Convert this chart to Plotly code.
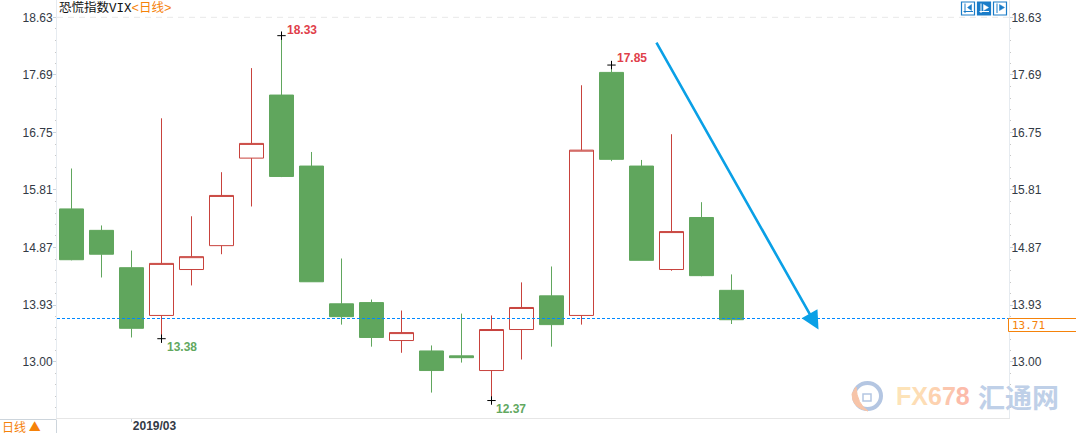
import plotly.graph_objects as go

W, H = 1076, 433
L, R, B = 57, 1009, 418

day_index = list(range(23))
open_ = [15.50,15.15,14.54,13.76,14.51,14.90,16.33,17.36,16.20,13.95,13.97,13.35,13.18,13.10,12.86,13.53,14.08,13.76,17.73,16.20,14.51,15.36,14.17]
high  = [16.16,15.23,14.82,16.98,15.38,16.10,17.80,18.33,16.43,14.69,14.02,13.84,13.27,13.79,13.76,14.30,14.56,17.52,17.85,16.30,16.72,15.61,14.43]
low   = [14.66,14.38,13.40,13.38,14.25,14.76,15.54,16.02,14.31,13.61,13.25,13.15,12.50,12.99,12.37,13.04,13.25,13.61,16.28,14.66,14.49,14.40,13.62]
close = [14.67,14.76,13.55,14.61,14.72,15.72,16.57,16.03,14.31,13.74,13.40,13.48,12.86,13.07,13.53,13.89,13.61,16.46,16.31,14.66,15.13,14.41,13.69]

y_ticks = [18.63,17.69,16.75,15.81,14.87,13.93,13.00]
y_minor = [18.44,18.25,18.06,17.88,17.50,17.31,17.12,16.94,16.56,16.37,16.18,16.00,15.62,15.43,15.24,15.06,14.68,14.49,14.30,14.12,13.74,13.56,13.37,13.19,12.81,12.63,12.44,12.26]
y_labels = [f"{v:.2f}" for v in y_ticks]
last_price = 13.71
x_tick, x_label = 2, "2019/03"
extreme_x = [7, 18, 3, 14]
extreme_y = [18.33, 17.85, 13.38, 12.37]
extreme_colors = ["#E0404A", "#E0404A", "#62A85F", "#62A85F"]
arrow_start = (19.47, 18.24)
arrow_end = (24.9, 13.53)

RED, GREEN = "#C8423C", "#60A65D"
AX = "#E6EBF0"
TXT = "#333A45"

def val_y(y):
    return 18.63 - (y - 17.3) / 61.22

y_range = [val_y(B), val_y(0)]
x_range = [(L - 71.5) / 30, (R - 71.5) / 30]

def px(x): return (x - L) / (R - L)
def py(y): return (B - y) / B

fig = go.Figure()
fig.add_trace(go.Candlestick(
    x=day_index, open=open_, high=high, low=low, close=close,
    increasing=dict(line=dict(color=RED, width=1), fillcolor="#FFFFFF"),
    decreasing=dict(line=dict(color=GREEN, width=1), fillcolor=GREEN),
    whiskerwidth=0, showlegend=False, hoverinfo="skip", opacity=1,
))
fig.add_trace(go.Scatter(
    x=extreme_x, y=extreme_y, mode="markers",
    marker=dict(symbol="cross-thin", size=6, line=dict(color="#000000", width=1)),
    showlegend=False, hoverinfo="skip",
))
fig.add_trace(go.Scatter(
    x=[0], y=[last_price], yaxis="y2", mode="markers",
    marker=dict(opacity=0), showlegend=False, hoverinfo="skip",
))

shapes = [
    dict(type="line", xref="paper", yref="y", x0=0, x1=1, y0=y_ticks[0], y1=y_ticks[0],
         line=dict(color="#E8E8E8", width=1, dash="6px,5px")),
    dict(type="line", xref="paper", yref="y", x0=0, x1=1, y0=last_price, y1=last_price,
         line=dict(color="#0088FF", width=1, dash="3px,2px")),
    # last-price tag
    dict(type="rect", xref="paper", yref="paper", x0=px(1008.5), x1=px(1076.5), y0=py(331.5), y1=py(318.5),
         line=dict(color="#F5820A", width=1), fillcolor="#FFFFFF"),
    # bottom-left box line
    dict(type="line", xref="paper", yref="paper", x0=px(0), x1=px(56), y0=py(419.5), y1=py(419.5),
         line=dict(color="#CDD5DC", width=1)),
    dict(type="line", xref="paper", yref="paper", x0=px(56.5), x1=px(56.5), y0=py(419.5), y1=py(433),
         line=dict(color="#CDD5DC", width=1)),
]
# toolbar icons
for i, x0 in enumerate([961.5, 977.5, 993.5]):
    shapes.append(dict(type="rect", xref="paper", yref="paper", x0=px(x0), x1=px(x0 + 13), y0=py(15), y1=py(2),
                       line=dict(color="#1A7CC8", width=1.2),
                       fillcolor="#1A7CC8" if i == 1 else "#FFFFFF"))
    c = "#FFFFFF" if i == 1 else "#1A7CC8"
    shapes.append(dict(type="line", xref="paper", yref="paper", x0=px(x0 + 3.5), x1=px(x0 + 3.5), y0=py(13), y1=py(3.5),
                       line=dict(color=c, width=1)))
    if i < 2:
        shapes.append(dict(type="line", xref="paper", yref="paper", x0=px(x0 + 2), x1=px(x0 + 11.5), y0=py(11.5), y1=py(11.5),
                           line=dict(color=c, width=1)))
    tip, base = (x0 + 6, x0 + 10) if i == 0 else (x0 + 11, x0 + 6)
    shapes.append(dict(type="path", xref="paper", yref="paper",
                       path=f"M {px(base)} {py(4.5)} L {px(tip)} {py(7.5)} L {px(base)} {py(10.5)} Z",
                       line=dict(color=c, width=0.5), fillcolor=c))
# watermark logo
shapes += [
    dict(type="circle", xref="paper", yref="paper", x0=px(854), x1=px(881), y0=py(409), y1=py(383),
         line=dict(color="#B4C6E2", width=4), fillcolor="#FFFFFF"),
    dict(type="path", xref="paper", yref="paper",
         path=f"M {px(852)} {py(394)} Q {px(852)} {py(408)} {px(868)} {py(411)} Q {px(857)} {py(404)} {px(856)} {py(387)} Z",
         line=dict(color="#F7C4A8", width=1), fillcolor="#F7C4A8"),
    dict(type="rect", xref="paper", yref="paper", x0=px(863), x1=px(871), y0=py(401), y1=py(394),
         line=dict(color="#B4C6E2", width=1.5)),
]

ann = [
    dict(xref="paper", yref="paper", x=px(57), y=py(8), xanchor="left", yanchor="middle", showarrow=False,
         text='<span style="color:#111111">恐慌指数VIX</span><span style="color:#F5820A">&lt;日线&gt;</span>',
         font=dict(family="Liberation Mono, Noto Sans CJK SC", size=12.5)),
    dict(xref="paper", yref="paper", x=px(0), y=py(426), xanchor="left", yanchor="middle", showarrow=False,
         text="日线 ▲", font=dict(family="Noto Sans CJK SC", size=12, color="#F5820A")),
    dict(xref="paper", yref="paper", x=px(1010), y=py(325), xanchor="left", yanchor="middle", showarrow=False,
         text=f"{last_price:.2f}", font=dict(family="DejaVu Sans Mono", size=11, color="#F5820A")),
    dict(xref="paper", yref="paper", x=px(933), y=py(396), xanchor="center", yanchor="middle", showarrow=False,
         text='<span style="color:#FDE3B8">F</span><span style="color:#FDDDB5">X</span><span style="color:#FDD2B0">6</span><span style="color:#FCC6AE">7</span><span style="color:#FCBBAA">8</span>',
         font=dict(family="Liberation Sans", size=25, weight="bold")),
    dict(xref="paper", yref="paper", x=px(1018), y=py(396), xanchor="center", yanchor="middle", showarrow=False,
         text="汇通网", font=dict(family="Noto Sans CJK SC", size=27, color="#BFD0E8", weight="bold")),
    dict(x=arrow_end[0], y=arrow_end[1], ax=arrow_start[0], ay=arrow_start[1], xref="x", yref="y", axref="x", ayref="y",
         showarrow=True, arrowhead=2, arrowsize=1.4, arrowwidth=2.6, arrowcolor="#0AA0E6", text=""),
]
for xv, yv, c, dy, xs in zip(extreme_x, extreme_y, extreme_colors, [-6, -7, 8, 8], [3, 3, 3, 2]):
    ann.append(dict(x=xv, y=yv, xref="x", yref="y", text=f"{yv:.2f}", showarrow=False,
                    xanchor="left", yanchor="middle", xshift=xs, yshift=-dy,
                    font=dict(family="Liberation Sans", size=12, color=c, weight="bold")))

axis_common = dict(
    range=y_range, tickvals=y_ticks, ticktext=y_labels, showgrid=False, zeroline=False,
    ticks="outside", ticklen=3, tickcolor="#C8D2DC", tickwidth=1, automargin=False,
    tickfont=dict(family="Liberation Sans", size=12, color=TXT),
    showline=True, linecolor=AX, linewidth=1,
    minor=dict(tickvals=y_minor, ticks="outside", ticklen=1, tickcolor="#C8C8C8", tickwidth=1),
    fixedrange=True,
)

fig.update_layout(
    width=W, height=H, autosize=False,
    margin=dict(l=L, r=W - R, t=0, b=H - B, pad=0),
    paper_bgcolor="#FFFFFF", plot_bgcolor="#FFFFFF",
    boxgap=0.2, boxgroupgap=0, showlegend=False,
    xaxis=dict(range=x_range, tickvals=[x_tick], ticktext=[x_label], showgrid=False, zeroline=False,
               rangeslider=dict(visible=False), ticks="outside", ticklen=3, tickcolor="#C8D2DC",
               automargin=False, showline=True, linecolor="#E6E6E6", linewidth=1, ticklabelshift=23,
               ticklabelstandoff=-6,
               tickfont=dict(family="Liberation Sans", size=12, color=TXT, weight="bold"), fixedrange=True),
    yaxis=dict(**axis_common, side="left", ticklabelstandoff=-2),
    yaxis2=dict(**axis_common, side="right", overlaying="y", anchor="x", ticklabelstandoff=-4),
    shapes=shapes, annotations=ann,
)
fig.write_html("out.html", config=dict(displayModeBar=False),
               post_script="document.body.style.margin='0';document.body.style.overflow='hidden';")
